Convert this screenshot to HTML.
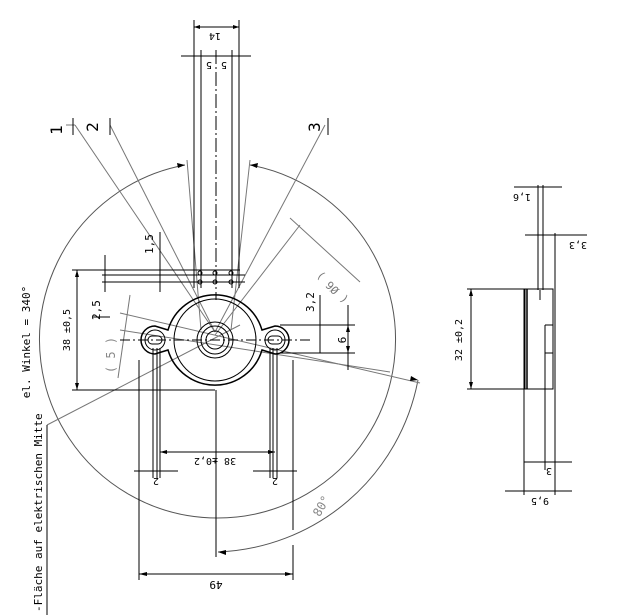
<!DOCTYPE html>
<html><head><meta charset="utf-8"><style>
html,body{margin:0;padding:0;background:#fff;width:631px;height:615px;overflow:hidden}
text{font-family:"DejaVu Sans Mono","Liberation Mono",monospace;fill:#000}
</style></head><body>
<svg width="631" height="615" viewBox="0 0 631 615" xmlns="http://www.w3.org/2000/svg">
<g fill="none" stroke="#000" stroke-width="1">
<!-- big circle arc (gap at top) -->
<path d="M185 165 A178 178 0 1 0 250 165" stroke="#555"/>
<!-- 80 deg arc -->
<path d="M218 552 A212 212 0 0 0 418 380" stroke="#555"/>
<!-- gray leader lines -->
<g stroke="#777">
<line x1="75" y1="125" x2="215" y2="332"/>
<line x1="110" y1="125" x2="215" y2="332"/>
<line x1="325" y1="125" x2="215" y2="332"/>
<line x1="187" y1="160" x2="201" y2="330"/>
<line x1="250" y1="160" x2="231" y2="330"/>
<line x1="300" y1="225" x2="215" y2="335"/>
<line x1="120" y1="313" x2="420" y2="383"/>
<line x1="120" y1="330" x2="390" y2="372"/>
<line x1="47" y1="425" x2="240" y2="325"/>
<line x1="290" y1="218" x2="360" y2="282"/>
<line x1="130" y1="295" x2="118" y2="378"/>
<line x1="66" y1="125" x2="75" y2="125"/>
</g>
<!-- label ticks -->
<line x1="73" y1="118" x2="73" y2="135"/>
<line x1="110" y1="118" x2="110" y2="135"/>
<line x1="328" y1="118" x2="328" y2="135"/>
<!-- terminal strip -->
<line x1="194" y1="20" x2="194" y2="288"/>
<line x1="201" y1="50" x2="201" y2="288"/>
<line x1="216" y1="50" x2="216" y2="300" stroke-dasharray="14 3 2 3"/>
<line x1="232" y1="50" x2="232" y2="288"/>
<line x1="239" y1="20" x2="239" y2="288"/>
<line x1="194" y1="27" x2="239" y2="27"/>
<line x1="181" y1="56" x2="251" y2="56"/>
<!-- pin holes -->
<g>
<circle cx="200" cy="273" r="2"/><circle cx="215" cy="273" r="2"/><circle cx="231" cy="273" r="2"/>
<circle cx="200" cy="282" r="2"/><circle cx="215" cy="282" r="2"/><circle cx="231" cy="282" r="2"/>
</g>
<!-- horizontal dims lines -->
<line x1="72" y1="270" x2="240" y2="270"/>
<line x1="102" y1="275" x2="245" y2="275"/>
<line x1="102" y1="282" x2="245" y2="282"/>
<line x1="72" y1="390" x2="215" y2="390"/>
<line x1="77" y1="270" x2="77" y2="390"/>
<line x1="105" y1="255" x2="105" y2="292"/>
<line x1="160" y1="232" x2="160" y2="292"/>
<line x1="93" y1="317" x2="110" y2="317"/>
<!-- flange -->
<path d="M168 330 A49 49 0 0 1 262 330 L275 326 A14 14 0 0 1 275 354 L262 350 A49 49 0 0 1 168 350 L155 354 A14 14 0 0 1 155 326 Z" stroke-width="1.5"/>
<circle cx="215" cy="340" r="41"/>
<circle cx="215" cy="340" r="18"/>
<circle cx="215" cy="340" r="14"/>
<circle cx="215" cy="340" r="9"/>
<circle cx="155" cy="340" r="10"/>
<circle cx="275" cy="340" r="10"/>
<rect x="148" y="336" width="14" height="8" rx="4"/>
<rect x="268" y="336" width="14" height="8" rx="4"/>
<line x1="120" y1="340" x2="310" y2="340" stroke-dasharray="10 3 2 3"/>
<!-- right dims -->
<line x1="280" y1="325" x2="355" y2="325"/>
<line x1="280" y1="353" x2="355" y2="353"/>
<line x1="320" y1="295" x2="320" y2="353"/>
<line x1="348" y1="305" x2="348" y2="370"/>
<!-- vertical lines down -->
<line x1="139" y1="360" x2="139" y2="580"/>
<line x1="153" y1="348" x2="153" y2="478"/>
<line x1="157" y1="348" x2="157" y2="478"/>
<line x1="160" y1="348" x2="160" y2="478"/>
<line x1="270" y1="348" x2="270" y2="478"/>
<line x1="273" y1="348" x2="273" y2="478"/>
<line x1="277" y1="348" x2="277" y2="478"/>
<line x1="293" y1="360" x2="293" y2="530"/>
<line x1="293" y1="545" x2="293" y2="580"/>
<line x1="216" y1="390" x2="216" y2="557"/>
<line x1="160" y1="452" x2="275" y2="452"/>
<line x1="134" y1="471" x2="178" y2="471"/>
<line x1="253" y1="471" x2="297" y2="471"/>
<line x1="139" y1="574" x2="293" y2="574"/>
<!-- left bottom text line -->
<line x1="47" y1="425" x2="47" y2="615"/>
<!-- side view -->
<line x1="538" y1="185" x2="538" y2="290"/>
<line x1="543" y1="185" x2="543" y2="290"/>
<line x1="514" y1="187" x2="562" y2="187"/>
<line x1="525" y1="235" x2="587" y2="235"/>
<line x1="555" y1="233" x2="555" y2="495"/>
<line x1="524" y1="289" x2="524" y2="495"/>
<rect x="525" y="289" width="28" height="100"/>
<line x1="527" y1="289" x2="527" y2="389" stroke-width="1.5"/>
<line x1="545" y1="325" x2="545" y2="470"/>
<line x1="545" y1="325" x2="553" y2="325"/>
<line x1="545" y1="353" x2="553" y2="353"/>
<line x1="540" y1="290" x2="540" y2="300"/>
<line x1="467" y1="289" x2="527" y2="289"/>
<line x1="467" y1="389" x2="527" y2="389"/>
<line x1="471" y1="289" x2="471" y2="389"/>
<line x1="524" y1="462" x2="572" y2="462"/>
<line x1="505" y1="491" x2="572" y2="491"/>
</g>
<!-- arrowheads -->
<g fill="#000">
<path d="M185 165 l-8 -2 l1 5z"/><path d="M250 165 l8 -2 l-1 5z"/>
<path d="M418 380 l-7 -4 l-1 5z"/><path d="M218 552 l8 -2 l0 5z"/>
<path d="M194 27 l6 -2 v4z"/><path d="M239 27 l-6 -2 v4z"/>
<path d="M77 270 l-2 7 h4z"/><path d="M77 390 l-2 -7 h4z"/>
<path d="M160 452 l7 -2 v4z"/><path d="M275 452 l-7 -2 v4z"/>
<path d="M139 574 l8 -2 v4z"/><path d="M293 574 l-8 -2 v4z"/>
<path d="M471 289 l-2 7 h4z"/><path d="M471 389 l-2 -7 h4z"/>
<path d="M348 353 l-2 -7 h4z"/><path d="M348 325 l-2 7 h4z"/>
</g>
<!-- texts -->
<text x="215" y="33" font-size="10" text-anchor="middle" transform="rotate(180 215 33)">14</text>
<text x="209" y="62" font-size="10" text-anchor="middle" transform="rotate(180 209 62)">5</text>
<text x="224" y="62" font-size="10" text-anchor="middle" transform="rotate(180 224 62)">5</text>
<text x="62" y="130" font-size="16" text-anchor="middle" transform="rotate(-90 62 130)">1</text>
<text x="98" y="127" font-size="16" text-anchor="middle" transform="rotate(-90 98 127)">2</text>
<text x="320" y="127" font-size="16" text-anchor="middle" transform="rotate(-90 320 127)">3</text>
<text x="153" y="244" font-size="11" text-anchor="middle" transform="rotate(-90 153 244)">1,5</text>
<text x="100" y="310" font-size="11" text-anchor="middle" transform="rotate(-90 100 310)">2,5</text>
<text x="70" y="330" font-size="10" text-anchor="middle" transform="rotate(-90 70 330)">38 ±0,5</text>
<text x="115" y="355" font-size="12" fill="#888" text-anchor="middle" transform="rotate(-90 115 355)" style="fill:#888">( 5 )</text>
<text x="314" y="302" font-size="11" text-anchor="middle" transform="rotate(-90 314 302)">3,2</text>
<text x="338" y="340" font-size="11" text-anchor="middle" transform="rotate(90 338 340)">9</text>
<text x="335" y="285" font-size="11" text-anchor="middle" transform="rotate(-135 335 285)" style="fill:#777">( Ø6 )</text>
<text x="215" y="458" font-size="10" text-anchor="middle" transform="rotate(180 215 458)">38 ±0,2</text>
<text x="156" y="478" font-size="10" text-anchor="middle" transform="rotate(180 156 478)">2</text>
<text x="275" y="478" font-size="10" text-anchor="middle" transform="rotate(180 275 478)">2</text>
<text x="216" y="581" font-size="11" text-anchor="middle" transform="rotate(180 216 581)">49</text>
<text x="325" y="508" font-size="12" text-anchor="middle" transform="rotate(-60 325 508)" style="fill:#888">80°</text>
<text x="30" y="342" font-size="11" text-anchor="middle" transform="rotate(-90 30 342)">el. Winkel = 340°</text>
<text x="42" y="612" font-size="11" text-anchor="start" transform="rotate(-90 42 612)">-Fläche auf elektrischen Mitte</text>
<text x="522" y="194" font-size="10" text-anchor="middle" transform="rotate(180 522 194)">1,6</text>
<text x="578" y="242" font-size="10" text-anchor="middle" transform="rotate(180 578 242)">3,3</text>
<text x="462" y="340" font-size="10" text-anchor="middle" transform="rotate(-90 462 340)">32 ±0,2</text>
<text x="549" y="468" font-size="10" text-anchor="middle" transform="rotate(180 549 468)">3</text>
<text x="540" y="498" font-size="10" text-anchor="middle" transform="rotate(180 540 498)">9,5</text>
</svg>
</body></html>
